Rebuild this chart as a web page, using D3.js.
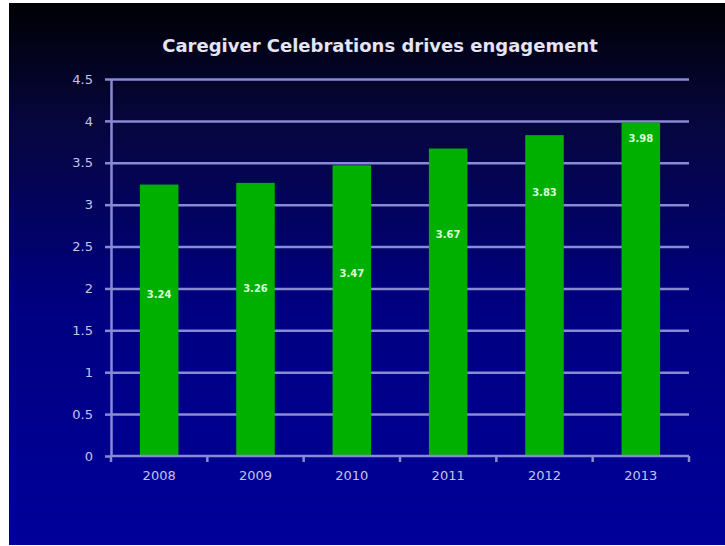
<!DOCTYPE html>
<html lang="en">
<head>
    <meta charset="UTF-8">
    <title>Caregiver Celebrations</title>
</head>
<style>
    body { margin: 0; background: #ffffff; }
    .axis path,
    .axis line {
        fill: none;
        stroke: #8a8ad4;
        stroke-width: 2.5;
    }
    .axis text {
        font-family: "DejaVu Sans", sans-serif;
        font-size: 13px;
        fill: #c4c4ea;
    }
    .grid line {
        stroke: #8a8ad4;
        stroke-width: 2.5;
    }
    .grid path { display: none; }
    .MyText {
        fill: #d8ffd8;
        font-family: "DejaVu Sans", sans-serif;
        font-size: 10px;
        font-weight: bold;
        text-anchor: middle;
    }
</style>
<body>
<svg class="svg1"></svg>
<script src="https://cdn.jsdelivr.net/npm/d3@7/dist/d3.min.js"></script>
<script>
    // data
    var years = ['2008','2009','2010','2011','2012','2013']
    var values = [3.24, 3.26, 3.47, 3.67, 3.83, 3.98]
    // where the value labels sit on the bars (in value units)
    var labelAt = [1.93, 2.0, 2.19, 2.65, 3.15, 3.8]
    var yTicks = [0, 0.5, 1, 1.5, 2, 2.5, 3, 3.5, 4, 4.5]

    var W = 725, H = 546
    var svg = d3.select('.svg1').attr('width', W).attr('height', H)

    // background gradient
    var grad = svg.append('defs').append('linearGradient')
        .attr('id', 'bg').attr('x1', 0).attr('y1', 0).attr('x2', 0).attr('y2', 1)
    grad.append('stop').attr('offset', '0%').attr('stop-color', '#000004')
    grad.append('stop').attr('offset', '22%').attr('stop-color', '#06063e')
    grad.append('stop').attr('offset', '55%').attr('stop-color', '#000080')
    grad.append('stop').attr('offset', '100%').attr('stop-color', '#00009a')

    svg.append('rect')
        .attr('x', 9).attr('y', 3)
        .attr('width', W - 9).attr('height', H - 4)
        .attr('fill', 'url(#bg)')

    // title
    svg.append('text')
        .attr('x', 380).attr('y', 52)
        .attr('text-anchor', 'middle')
        .style('font-family', '"DejaVu Sans", sans-serif')
        .style('font-size', '18px')
        .style('font-weight', 'bold')
        .style('fill', '#e4e4f4')
        .text('Caregiver Celebrations drives engagement')

    var mLeft = 111, mRight = 689, mTop = 79, mBottom = 456

    var yScale = d3.scaleLinear().domain([0, 4.5]).range([mBottom, mTop])
    var xScale = d3.scaleBand().domain(years).range([mLeft, mRight]).paddingInner(0.6).paddingOuter(0.3)

    // gridlines
    svg.append('g')
        .attr('class', 'grid')
        .attr('transform', 'translate(' + mLeft + ',0)')
        .call(d3.axisRight(yScale).tickValues(yTicks.slice(1)).tickSize(mRight - mLeft).tickFormat(''))

    // bars
    svg.selectAll('.MyRect')
        .data(values)
        .enter()
        .append('rect')
        .attr('class', 'MyRect')
        .attr('x', function (d, i) { return xScale(years[i]) })
        .attr('y', function (d) { return yScale(d) })
        .attr('width', xScale.bandwidth())
        .attr('height', function (d) { return yScale(0) - yScale(d) })
        .attr('fill', '#00b000')

    // y axis
    svg.append('g')
        .attr('class', 'axis')
        .attr('transform', 'translate(' + mLeft + ',0)')
        .call(d3.axisLeft(yScale).tickValues(yTicks).tickSize(6).tickSizeOuter(0)
            .tickFormat(function (d) { return d }))
        .selectAll('text').attr('x', -18)

    // x axis with ticks between categories
    var xg = svg.append('g')
        .attr('class', 'axis')
        .attr('transform', 'translate(0,' + mBottom + ')')
        .call(d3.axisBottom(xScale).tickSize(0).tickSizeOuter(0))
    xg.select('.domain').attr('d', 'M' + mLeft + ',0H' + mRight)
    xg.selectAll('text').attr('y', 15)

    var edges = d3.range(years.length + 1).map(function (i) { return mLeft + i * (mRight - mLeft) / years.length })
    xg.selectAll('.sep')
        .data(edges)
        .enter()
        .append('line')
        .attr('class', 'sep')
        .attr('x1', function (d) { return d }).attr('x2', function (d) { return d })
        .attr('y1', 0).attr('y2', 6)

    // value labels
    svg.selectAll('.MyText')
        .data(values)
        .enter()
        .append('text')
        .attr('class', 'MyText')
        .attr('x', function (d, i) { return xScale(years[i]) + xScale.bandwidth() / 2 })
        .attr('y', function (d, i) { return yScale(labelAt[i]) })
        .attr('dy', 4)
        .text(function (d) { return d.toFixed(2) })
</script>
</body>
</html>
